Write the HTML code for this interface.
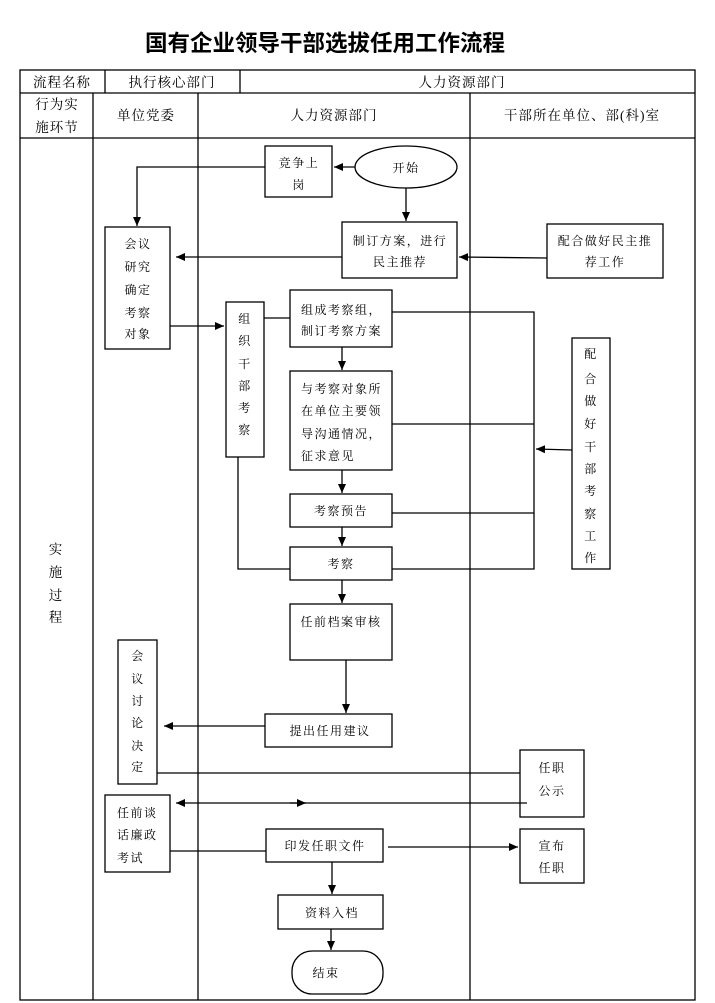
<!DOCTYPE html>
<html><head><meta charset="utf-8"><style>
html,body{margin:0;padding:0;background:#fff;}
svg{display:block;}
text{font-family:"Liberation Serif","Noto Serif CJK SC","Noto Sans CJK SC",serif;fill:#000;}
.t{font-size:12px;letter-spacing:1.5px;}
.h{font-size:13.5px;letter-spacing:1px;}
</style></head><body>
<svg width="715" height="1003" viewBox="0 0 715 1003" xmlns="http://www.w3.org/2000/svg">
<defs><marker id="a" markerWidth="10" markerHeight="10" refX="9" refY="5" orient="auto" markerUnits="userSpaceOnUse"><path d="M0,1 L9,5 L0,9 z" fill="#000"/></marker></defs>
<text x="325" y="51" text-anchor="middle" style="font-family:'Noto Sans CJK SC',sans-serif;font-weight:bold;font-size:22.5px">国有企业领导干部选拔任用工作流程</text>
<g stroke="#000" stroke-width="1.3" fill="none">
<rect x="20" y="70" width="675" height="930"/>
<line x1="20" y1="93" x2="695" y2="93"/>
<line x1="20" y1="138" x2="695" y2="138"/>
<line x1="105" y1="70" x2="105" y2="93"/>
<line x1="240" y1="70" x2="240" y2="93"/>
<line x1="93" y1="93" x2="93" y2="1000"/>
<line x1="198" y1="93" x2="198" y2="1000"/>
<line x1="470" y1="93" x2="470" y2="1000"/>
</g>
<g class="h" text-anchor="middle">
<text x="62" y="87">流程名称</text>
<text x="172" y="87">执行核心部门</text>
<text x="462" y="87">人力资源部门</text>
<text x="57" y="109">行为实</text>
<text x="57" y="132">施环节</text>
<text x="146" y="120">单位党委</text>
<text x="334" y="120">人力资源部门</text>
<text x="582" y="120">干部所在单位、部(科)室</text>
<text x="56" y="554">实</text><text x="56" y="577">施</text><text x="56" y="600">过</text><text x="56" y="622">程</text>
</g>
<g stroke="#000" stroke-width="1.3" fill="#fff">
<rect x="265" y="146" width="67" height="51"/>
<ellipse cx="406" cy="167" rx="51" ry="21"/>
<rect x="342" y="222" width="115" height="56"/>
<rect x="547" y="224" width="116" height="54"/>
<rect x="105" y="227" width="65" height="122"/>
<rect x="226" y="302" width="38" height="155"/>
<rect x="290" y="290" width="102" height="57"/>
<rect x="290" y="371" width="102" height="99"/>
<rect x="572" y="338" width="38" height="231"/>
<rect x="290" y="494" width="102" height="33"/>
<rect x="290" y="547" width="102" height="33"/>
<rect x="290" y="604" width="102" height="56"/>
<rect x="265" y="714" width="127" height="33"/>
<rect x="118" y="640" width="39" height="144"/>
<rect x="520" y="750" width="64" height="67"/>
<rect x="105" y="795" width="65" height="77"/>
<rect x="266" y="829" width="117" height="33"/>
<rect x="520" y="829" width="64" height="54"/>
<rect x="278" y="895" width="105" height="34"/>
<rect x="292" y="951" width="91" height="43" rx="20"/>
</g>
<g stroke="#000" stroke-width="1.3" fill="none">
<line x1="355" y1="167" x2="334" y2="167" marker-end="url(#a)"/>
<polyline points="265,167 137,167 137,226" marker-end="url(#a)"/>
<line x1="406" y1="188" x2="406" y2="221" marker-end="url(#a)"/>
<line x1="547" y1="258" x2="459" y2="257" marker-end="url(#a)"/>
<line x1="342" y1="257" x2="176" y2="257" marker-end="url(#a)"/>
<line x1="170" y1="326" x2="224" y2="326" marker-end="url(#a)"/>
<line x1="264" y1="318" x2="290" y2="318"/>
<polyline points="392,312 534,312 534,569 392,569"/>
<line x1="392" y1="424" x2="534" y2="424"/>
<line x1="392" y1="513" x2="534" y2="513"/>
<line x1="572" y1="450" x2="536" y2="449" marker-end="url(#a)"/>
<line x1="342" y1="347" x2="342" y2="370" marker-end="url(#a)"/>
<line x1="342" y1="470" x2="342" y2="493" marker-end="url(#a)"/>
<line x1="342" y1="527" x2="342" y2="546" marker-end="url(#a)"/>
<line x1="342" y1="580" x2="342" y2="603" marker-end="url(#a)"/>
<polyline points="238,457 238,569 290,569"/>
<line x1="346" y1="660" x2="346" y2="713" marker-end="url(#a)"/>
<line x1="265" y1="726" x2="164" y2="726" marker-end="url(#a)"/>
<line x1="157" y1="773" x2="520" y2="773"/>
<line x1="527" y1="803" x2="176" y2="803" marker-end="url(#a)"/>
<line x1="290" y1="803" x2="306" y2="803" marker-end="url(#a)"/>
<line x1="170" y1="851" x2="266" y2="851"/>
<line x1="388" y1="847" x2="518" y2="847" marker-end="url(#a)"/>
<line x1="332" y1="862" x2="332" y2="894" marker-end="url(#a)"/>
<line x1="331" y1="929" x2="331" y2="950" marker-end="url(#a)"/>
</g>
<g class="t" text-anchor="middle">
<text x="299" y="167">竞争上</text><text x="299" y="189">岗</text>
<text x="406" y="172">开始</text>
<text x="400" y="245">制订方案，进行</text><text x="400" y="266">民主推荐</text>
<text x="605" y="245">配合做好民主推</text><text x="605" y="266">荐工作</text>
<text x="138" y="248">会议</text><text x="138" y="271">研究</text><text x="138" y="294">确定</text><text x="138" y="317">考察</text><text x="138" y="338">对象</text>
<text x="245" y="323">组</text><text x="245" y="345">织</text><text x="245" y="368">干</text><text x="245" y="390">部</text><text x="245" y="412">考</text><text x="245" y="434">察</text>
<text x="591" y="358">配</text><text x="591" y="383">合</text><text x="591" y="405">做</text><text x="591" y="428">好</text><text x="591" y="451">干</text><text x="591" y="473">部</text><text x="591" y="495">考</text><text x="591" y="518">察</text><text x="591" y="540">工</text><text x="591" y="562">作</text>
<text x="341" y="515">考察预告</text>
<text x="341" y="568">考察</text>
<text x="341" y="626">任前档案审核</text>
<text x="330" y="735">提出任用建议</text>
<text x="138" y="660">会</text><text x="138" y="683">议</text><text x="138" y="705">讨</text><text x="138" y="727">论</text><text x="138" y="750">决</text><text x="138" y="771">定</text>
<text x="552" y="772">任职</text><text x="552" y="795">公示</text>
<text x="552" y="850">宣布</text><text x="552" y="872">任职</text>
<text x="325" y="850">印发任职文件</text>
<text x="332" y="917">资料入档</text>
<text x="326" y="977">结束</text>
</g>
<g class="t">
<text x="301" y="314">组成考察组，</text><text x="301" y="335">制订考察方案</text>
<text x="301" y="393">与考察对象所</text><text x="301" y="415">在单位主要领</text><text x="301" y="438">导沟通情况，</text><text x="301" y="460">征求意见</text>
<text x="117" y="817">任前谈</text><text x="117" y="839">话廉政</text><text x="117" y="862">考试</text>
</g>
</svg>
</body></html>
